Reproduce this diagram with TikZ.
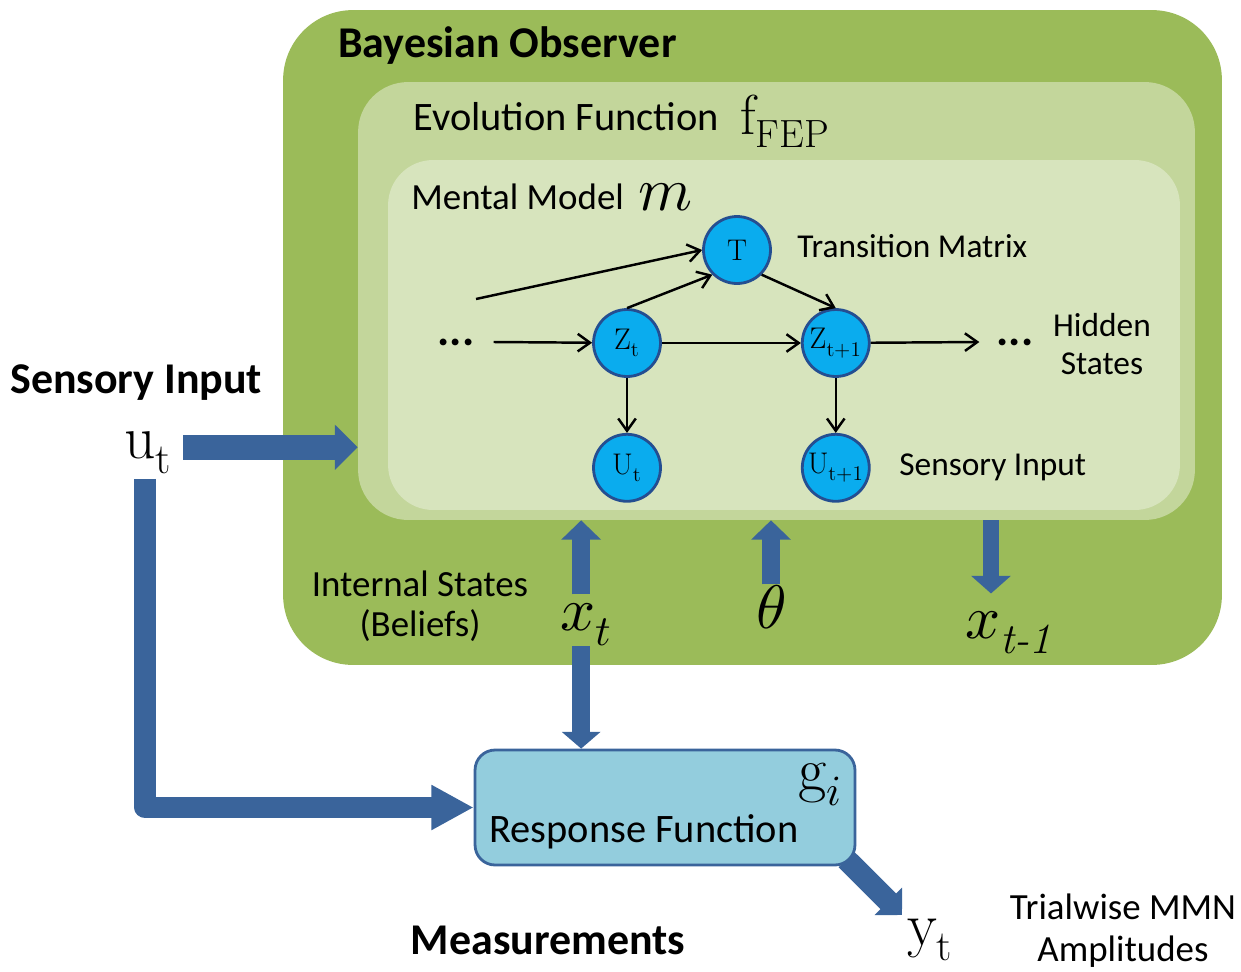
\documentclass[tikz,border=0pt]{standalone}
\usepackage{amsmath}
\usepackage{fontspec}
\usepackage{unicode-math}
\usepackage{tikz}
\usetikzlibrary{arrows.meta,positioning,backgrounds}
\newfontfamily\carlito{Carlito}
\definecolor{obsgreen}{RGB}{155,187,89}
\definecolor{evolgreen}{RGB}{195,214,155}
\definecolor{modelgreen}{RGB}{215,228,189}
\definecolor{arrowblue}{RGB}{58,100,155}
\definecolor{statefill}{RGB}{10,172,238}
\definecolor{stateline}{RGB}{36,78,145}
\definecolor{respfill}{RGB}{147,205,221}

\begin{document}
\begin{tikzpicture}[
  x=0.02cm, y=-0.02cm,
  >={Straight Barb[length=7pt,width=10pt]},
  every node/.style={font=\carlito\fontsize{19}{22}\selectfont, inner sep=0pt},
  box/.style={rectangle, inner sep=0pt},
  state/.style={circle, draw=stateline, fill=statefill, line width=1.6pt,
    minimum size=1.34cm, inner sep=0pt, font=\fontsize{17}{20}\selectfont},
  link/.style={->, line width=1.4pt},
  fat/.style={draw=arrowblue, line width=#1},
  title/.style={font=\carlito\bfseries\fontsize{25}{30}\selectfont},
  sym/.style={font=\fontsize{35}{40}\selectfont},
  dots/.style={font=\carlito\bfseries\fontsize{26}{30}\selectfont}
]
\useasboundingbox (0,0) rectangle (1241,971);

\node[box, fill=obsgreen, rounded corners=1.4cm, minimum width=18.78cm, minimum height=13.1cm] (obs) at (752.5,337.5) {};
\node[box, fill=evolgreen, rounded corners=1cm, minimum width=16.74cm, minimum height=8.76cm] (evol) at (776.5,301) {};
\node[box, fill=modelgreen, rounded corners=0.9cm, minimum width=15.84cm, minimum height=7cm] (model) at (784,335) {};

\node[title, anchor=west] (obstitle) at (338,46) {Bayesian Observer};
\node[font=\carlito\fontsize{23}{28}\selectfont, anchor=west] (evoltitle) at (413,117) {Evolution Function};
\node[font=\fontsize{32}{38}\selectfont, anchor=base west] (fep) at (740,134) {$\mathrm{f}_{\mathrm{FEP}}$};
\node[font=\carlito\fontsize{21}{25}\selectfont, anchor=west] (modeltitle) at (411,197) {Mental Model};
\node[sym, anchor=base] (mm) at (665,210) {$m$};

\node[state] (T) at (737,250) {$\mathrm{T}$};
\node[state] (zt) at (627,343) {$\mathrm{Z}_{\mathrm{t}}$};
\node[state, right=2.78cm of zt] (ztt) {$\mathrm{Z}_{\mathrm{t+1}}$};
\node[state, below=1.1cm of zt] (ut1) {$\mathrm{U}_{\mathrm{t}}$};
\node[state, below=1.1cm of ztt] (utt) {$\mathrm{U}_{\mathrm{t+1}}$};
\node[dots] (dl) at (456,342) {...};
\node[dots] (dr) at (1015,342) {...};
\coordinate (tin) at (476,299);

\node[anchor=west] (tmlabel) at (797,246) {Transition Matrix};
\node[align=center] (hidden) at (1102,344) {Hidden\\States};
\node[anchor=west] (inlabel) at (899,467) {Sensory Input};

\draw[link] ([xshift=0.38cm]dl.east) -- (zt);
\draw[link] (zt) -- (ztt);
\draw[link] (ztt) -- ([xshift=-0.34cm]dr.west);
\draw[link] (tin) -- (T.west);
\draw[link] (zt.north) -- (T.south west);
\draw[link] (T.south east) -- (ztt.north);
\draw[link] (zt) -- (ut1);
\draw[link] (ztt) -- (utt);

\node[font=\carlito\fontsize{21}{22.5}\selectfont, align=center] (internal) at (420,606) {Internal States\\(Beliefs)};
\node[sym, anchor=base west] (xt) at (560,630) {$x_t$};
\node[sym, anchor=base] (theta) at (771,628) {$\theta$};
\node[sym, anchor=base west] (xtm) at (965,638) {$x_{\textit{t-1}}$};

\draw[fat=10.5pt, -{Triangle[length=11pt,width=22pt]}] ([xshift=-0.1cm,yshift=0.16cm]xt.north) -- ([xshift=-0.1cm]xt.north |- evol.south);
\draw[fat=10.5pt, -{Triangle[length=11pt,width=22pt]}] (theta.north) -- (theta.north |- evol.south);
\draw[fat=9.5pt, -{Triangle[length=10pt,width=22pt]}] ([xshift=0.52cm]xtm.north west |- evol.south) -- ([xshift=0.52cm,yshift=0.34cm]xtm.north west);

\node[title, anchor=west] (inputtitle) at (10,383) {Sensory Input};
\node[sym, anchor=base] (ut) at (148,458) {$\mathrm{u}_{\mathrm{t}}$};
\draw[fat=14pt, -{Triangle[length=13pt,width=25pt]}] ([xshift=0.22cm,yshift=0.1cm]ut.east) -- ([yshift=0.1cm]ut.east -| evol.west);

\node[box, draw=arrowblue, line width=1.6pt, fill=respfill, rounded corners=0.4cm, minimum width=7.6cm, minimum height=2.3cm] (resp) at (665,807.5) {};
\node[font=\carlito\fontsize{23}{28}\selectfont, anchor=west] (resplabel) at (489,832) {Response Function};
\node[sym, anchor=base] (gi) at (820,790) {$\mathrm{g}_{i}$};

\draw[fat=12pt, line join=round, -{Triangle[length=24pt,width=24pt]}] ([xshift=-0.06cm,yshift=-0.1cm]ut.south) |- (resp.west);
\draw[fat=10pt, -{Triangle[length=9.5pt,width=21.5pt]}] ([xshift=-0.1cm]xt.south) -- ([xshift=-0.1cm]xt.south |- resp.north);

\node[title] (meas) at (548,940) {Measurements};
\node[sym, anchor=base] (yt) at (930,945) {$\mathrm{y}_{\mathrm{t}}$};
\coordinate (ytin) at (902,915);
\node[font=\carlito\fontsize{21}{24}\selectfont, align=center] (trial) at (1123,931) {Trialwise MMN\\Amplitudes};
\begin{scope}[on background layer]
\draw[fat=12.5pt, -{Triangle[length=11pt,width=21.5pt]}] ([xshift=-0.2cm,yshift=0.14cm]resp.south east) -- (ytin);
\end{scope}
\end{tikzpicture}
\end{document}
